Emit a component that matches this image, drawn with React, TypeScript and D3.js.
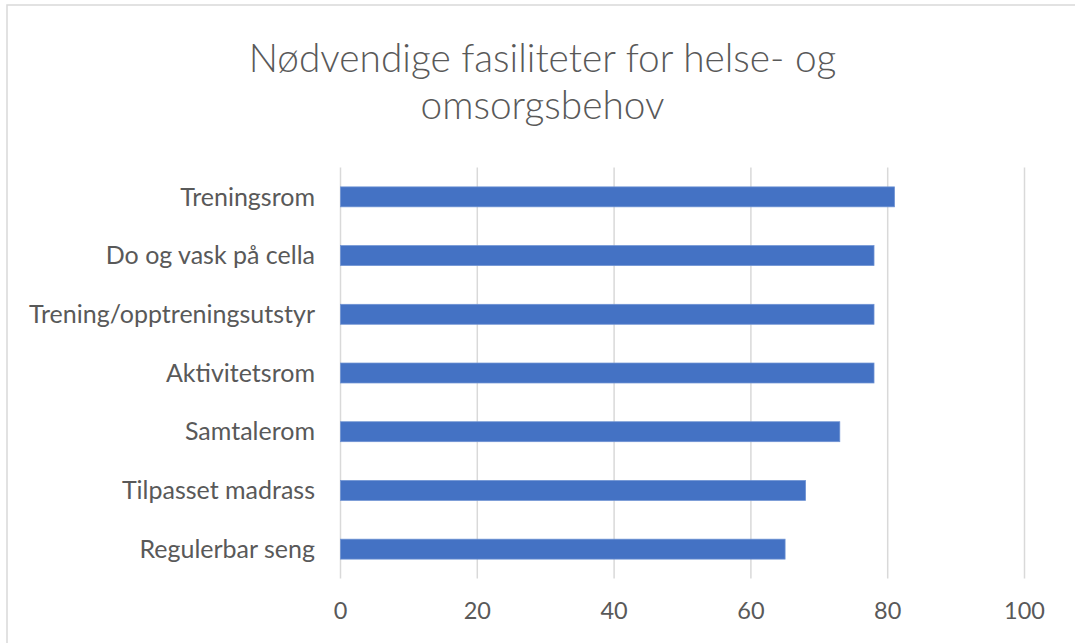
import React from "react";
import * as d3 from "d3";

const categories = [
  "Treningsrom",
  "Do og vask på cella",
  "Trening/opptreningsutstyr",
  "Aktivitetsrom",
  "Samtalerom",
  "Tilpasset madrass",
  "Regulerbar seng",
];
const values = [81, 78, 78, 78, 73, 68, 65];
const xTicks = [0, 20, 40, 60, 80, 100];
const titleLines = ["Nødvendige fasiliteter for helse- og", "omsorgsbehov"];

const W = 1075;
const H = 643;
const plot = { left: 340.5, right: 1024.5, top: 167.5, bottom: 578.5 };
const textColor = "#595959";
const font = "Lato, 'Open Sans', sans-serif";

export default function App() {
  const x = d3.scaleLinear().domain([0, 100]).range([plot.left, plot.right]);
  const y = d3
    .scaleBand<string>()
    .domain(categories)
    .range([plot.top, plot.bottom])
    .paddingInner(0.66)
    .paddingOuter(0.33);

  return (
    <svg
      width={W}
      height={H}
      style={{ position: "absolute", left: 0, top: 0, background: "#fff" }}
    >
      <rect x={0} y={0} width={W} height={H} fill="#fff" />
      <rect x={7} y={5} width={W + 20} height={H + 20} fill="none" stroke="#d9d9d9" strokeWidth={1.5} />
      {titleLines.map((t, i) => (
        <text
          key={i}
          x={542.5}
          y={72 + i * 47}
          textAnchor="middle"
          fontFamily={font}
          fontWeight={300}
          fontSize={38.8}
          fill={textColor}
        >
          {t}
        </text>
      ))}
      {xTicks.map((t) => (
        <g key={t}>
          <line
            x1={x(t)}
            x2={x(t)}
            y1={plot.top}
            y2={plot.bottom}
            stroke="#d9d9d9"
            strokeWidth={1.5}
          />
          <text
            x={x(t)}
            y={619}
            textAnchor="middle"
            fontFamily={font}
            fontSize={23.5}
            fill={textColor}
          >
            {t}
          </text>
        </g>
      ))}
      {categories.map((c, i) => (
        <g key={c}>
          <rect
            x={x(0)}
            y={y(c)!}
            width={x(values[i]) - x(0)}
            height={y.bandwidth()}
            fill="#4472C4"
            stroke="#6f93d3"
            strokeWidth={0.75}
          />
          <text
            x={315}
            y={y(c)! + y.bandwidth() / 2}
            dy="0.35em"
            textAnchor="end"
            fontFamily={font}
            fontSize={25}
            fill={textColor}
          >
            {c}
          </text>
        </g>
      ))}
    </svg>
  );
}
